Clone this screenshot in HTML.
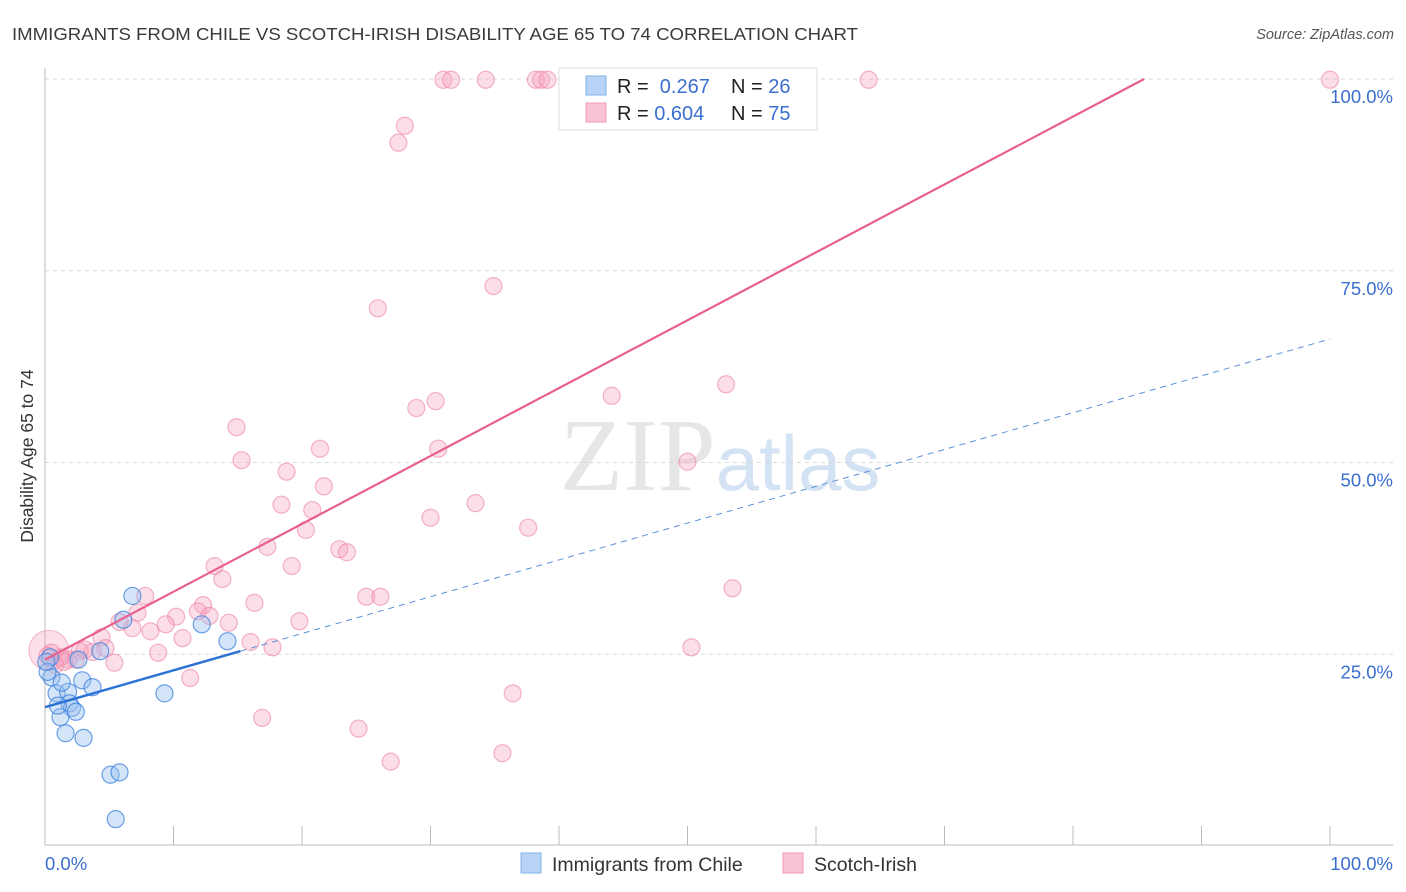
<!DOCTYPE html>
<html><head><meta charset="utf-8"><style>
body{margin:0;background:#fff;font-family:"Liberation Sans",sans-serif;}
svg{display:block}
</style></head><body>
<svg id="chart" width="1406" height="892" xmlns="http://www.w3.org/2000/svg">
<text x="12" y="40" font-size="17.5" fill="#3a3a3a" textLength="846" lengthAdjust="spacingAndGlyphs">IMMIGRANTS FROM CHILE VS SCOTCH-IRISH DISABILITY AGE 65 TO 74 CORRELATION CHART</text>
<text x="1394" y="39" font-size="14.5" fill="#555" text-anchor="end" font-style="italic">Source: ZipAtlas.com</text>
<text x="720" y="490" font-size="104" text-anchor="middle" font-family="Liberation Serif,serif" fill="#e6e6e6">ZIP<tspan fill="#d4e3f4" font-family="Liberation Sans,sans-serif" font-size="78">atlas</tspan></text>
<text transform="translate(33,456) rotate(-90)" font-size="17.5" fill="#333" text-anchor="middle">Disability Age 65 to 74</text>
<g id="grid"></g>
<g id="marks"></g>
<g>
<rect x="559" y="68" width="258" height="62" fill="#fff" stroke="#ddd"/>
<rect x="586" y="76" width="20" height="19" fill="#b8d3f5" stroke="#7fb0e8"/>
<rect x="586" y="103" width="20" height="19" fill="#f9c4d3" stroke="#f09ab5"/>
<text x="617" y="93" font-size="20" fill="#222">R = <tspan fill="#3a6fd0">&#160;0.267</tspan><tspan x="731">N = </tspan><tspan fill="#3a6fd0">26</tspan></text>
<text x="617" y="120" font-size="20" fill="#222">R = <tspan fill="#3a6fd0">0.604</tspan><tspan x="731">N = </tspan><tspan fill="#3a6fd0">75</tspan></text>
</g>
<g>
<rect x="521" y="853" width="20" height="20" fill="#b8d3f5" stroke="#7fb0e8"/>
<text x="552" y="871" font-size="19.5" fill="#333">Immigrants from Chile</text>
<rect x="783" y="853" width="20" height="20" fill="#f9c4d3" stroke="#f09ab5"/>
<text x="814" y="871" font-size="19.5" fill="#333">Scotch-Irish</text>
</g>
<text x="45" y="870" font-size="18.5" fill="#3a6fd0">0.0%</text>
<text x="1393" y="870" font-size="18.5" fill="#3a6fd0" text-anchor="end">100.0%</text>
</svg>
<script>
const blueX=[6.8,6.1,12.2,14.2,4.3,2.6,0.4,0.5,2.9,3.7,0.9,1.8,9.3,1.9,2.1,2.4,1.2,1.6,3.0,5.1,5.8,5.5,0.2,1.0,0.1,1.3];
const blueY=[32.6,29.5,28.9,26.7,25.4,24.3,24.6,22.0,21.6,20.7,19.9,20.1,19.9,18.6,18.0,17.5,16.8,14.7,14.1,9.3,9.6,3.5,22.7,18.3,24.0,21.3];
const pinkX=[31.0,31.6,34.3,38.2,38.6,39.1,64.1,100,28.0,27.5,34.9,25.9,53.0,44.1,28.9,30.4,14.9,15.3,50.0,21.4,30.6,18.8,21.7,18.4,20.8,33.5,30.0,37.6,20.3,17.3,22.9,23.5,19.2,13.2,13.8,7.8,53.5,25.0,26.1,16.3,12.3,7.2,11.9,10.2,12.8,14.3,19.8,9.4,5.8,6.8,8.2,10.7,16.0,4.4,17.7,50.3,2.7,3.7,4.7,8.8,0.5,0.2,1.2,1.8,2.4,5.4,0.8,11.3,36.4,16.9,24.4,35.6,26.9,3.1,1.5];
const pinkY=[99.9,99.9,99.9,99.9,99.9,99.9,99.9,99.9,93.9,91.7,73.0,70.1,60.2,58.7,57.1,58.0,54.6,50.3,50.1,51.8,51.8,48.8,46.9,44.5,43.8,44.7,42.8,41.5,41.2,39.0,38.7,38.3,36.5,36.5,34.8,32.6,33.6,32.5,32.5,31.7,31.4,30.4,30.6,29.9,30.0,29.1,29.3,28.9,29.2,28.4,28.0,27.1,26.6,27.2,25.9,25.9,25.4,25.3,25.8,25.2,25.2,24.8,24.6,24.3,24.3,23.9,23.6,21.9,19.9,16.7,15.3,12.1,11.0,25.6,24.0];
const blueLine=[18.1,0.48];   // intercept, slope
const pinkLine=[24.3,0.885];
const yTicks=[25,50,75,100];
const xTicks=[0,10,20,30,40,50,60,70,80,90,100];
const X0=45,X1=1330,Y0=846,Y100=79;
const sx=v=>X0+(X1-X0)*v/100, sy=v=>Y0-(Y0-Y100)*v/100;
const NS="http://www.w3.org/2000/svg";
function mk(t,a,p){const e=document.createElementNS(NS,t);for(const k in a)e.setAttribute(k,a[k]);p.appendChild(e);return e;}
const grid=document.getElementById('grid'),marks=document.getElementById('marks');
yTicks.forEach(v=>{
 const l=mk('line',{x1:45,x2:1393,y1:sy(v),y2:sy(v),stroke:'#d8d8d8','stroke-dasharray':'4,4'},grid);
 
 
 const t=mk('text',{x:1393,y:sy(v)+24,'font-size':18.5,fill:'#3a6fd0','text-anchor':'end'},grid);
 t.textContent=v.toFixed(1)+'%';
 
 
});
const ax=mk('line',{x1:45,x2:45,y1:68,y2:845,stroke:'#bbb'},grid);


const bx=mk('line',{x1:45,x2:1393,y1:845,y2:845,stroke:'#bbb'},grid);


xTicks.forEach(v=>{
 const t=mk('line',{x1:sx(v),x2:sx(v),y1:826,y2:845,stroke:'#bbb'},grid);
 
 
});
const big=mk('circle',{cx:sx(0.3),cy:sy(25.5),r:20,fill:'rgba(244,150,180,0.3)',stroke:'rgba(236,120,160,0.5)'},marks);


pinkX.forEach((x,i)=>{
 const c=mk('circle',{cx:sx(x),cy:sy(pinkY[i]),r:8.5,fill:'rgba(245,160,188,0.35)',stroke:'rgba(236,130,165,0.6)','stroke-width':1.2},marks);
 
 
});
blueX.forEach((x,i)=>{
 const c=mk('circle',{cx:sx(x),cy:sy(blueY[i]),r:8.5,fill:'rgba(150,190,240,0.4)',stroke:'rgba(60,130,220,0.75)','stroke-width':1.2},marks);
 
 
});
const pxEnd=(100-pinkLine[0])/pinkLine[1];
const pl=mk('line',{x1:sx(0),y1:sy(pinkLine[0]),x2:sx(pxEnd),y2:sy(100),stroke:'#e8608e','stroke-width':2.2},marks);


const bl=mk('line',{x1:sx(0),y1:sy(blueLine[0]),x2:sx(15.2),y2:sy(blueLine[0]+blueLine[1]*15.2),stroke:'#2a72d6','stroke-width':2.4},marks);


const bd=mk('line',{x1:sx(15.2),y1:sy(blueLine[0]+blueLine[1]*15.2),x2:sx(100),y2:sy(blueLine[0]+blueLine[1]*100),stroke:'#5a8fd8','stroke-width':1,'stroke-dasharray':'6,5'},marks);


</script>
</body></html>
